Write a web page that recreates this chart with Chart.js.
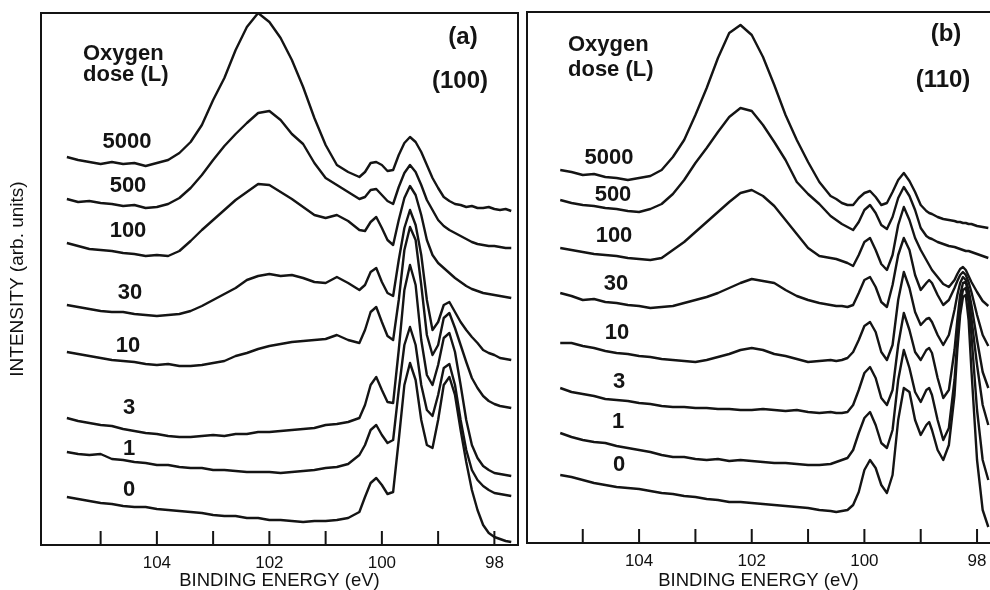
<!DOCTYPE html>
<html>
<head>
<meta charset="utf-8">
<script src="https://cdn.jsdelivr.net/npm/chart.js@4.4.1/dist/chart.umd.min.js"></script>
<style>
html, body { margin: 0; padding: 0; background: #fff; }
#wrap { position: relative; width: 990px; height: 590px; overflow: hidden; }
#boxA { position: absolute; left: 0; top: 0; width: 522px; height: 590px; }
#boxB { position: absolute; left: 522px; top: 0; width: 468px; height: 590px; }
</style>
</head>
<body>
<div id="wrap">
  <div id="boxA"><canvas id="chartA"></canvas></div>
  <div id="boxB"><canvas id="chartB"></canvas></div>
</div>
<script>
// binding energy grids (eV), shared by all curves of a panel
var energyA = [105.6, 105.4, 105.2, 105.0, 104.8, 104.6, 104.4, 104.2, 104.0, 103.8, 103.6, 103.4, 103.2, 103.0, 102.8, 102.6, 102.4, 102.2, 102.0, 101.8, 101.6, 101.4, 101.2, 101.0, 100.8, 100.6, 100.4,
  100.3, 100.2, 100.1, 100.0, 99.9, 99.8, 99.7, 99.6, 99.5, 99.4, 99.3, 99.2, 99.1, 99.0, 98.9, 98.8, 98.7, 98.6, 98.5, 98.4, 98.3, 98.2, 98.1, 98.0, 97.9, 97.8, 97.7];
var energyB = [105.4, 105.2, 105.0, 104.8, 104.6, 104.4, 104.2, 104.0, 103.8, 103.6, 103.4, 103.2, 103.0, 102.8, 102.6, 102.4, 102.2, 102.0, 101.8, 101.6, 101.4, 101.2, 101.0, 100.8, 100.6,
  100.5, 100.4, 100.3, 100.2, 100.1, 100.0, 99.9, 99.8, 99.7, 99.6, 99.5, 99.4, 99.3, 99.2, 99.1, 99.0,
  98.9, 98.85, 98.8, 98.7, 98.6, 98.5, 98.4, 98.35, 98.3, 98.25, 98.2, 98.15, 98.1, 98.0, 97.9, 97.8];

var doses = ['5000', '500', '100', '30', '10', '3', '1', '0'];
var tickLabels = [104, 102, 100, 98];

// panel (a), Si(100): spectra stacked with offsets (arb. units)
var a5000 = [388, 385, 383, 381, 383, 381, 382, 379, 382, 385, 392, 403, 420, 445, 467, 495, 518, 532, 523, 507, 485, 458, 427, 400, 380, 373, 368,
  373, 382, 383, 380, 374, 375, 390, 402, 408, 403, 393, 380, 367, 357, 348, 344, 341, 340, 338, 339, 337, 337, 338, 336, 335, 336, 334];
var a500 = [346, 343, 344, 342, 341, 339, 340, 337, 338, 341, 347, 357, 370, 385, 399, 411, 422, 432, 434, 425, 411, 401, 382, 367, 360, 353, 346,
  348, 355, 356, 350, 344, 341, 358, 372, 380, 373, 360, 345, 335, 325, 319, 315, 312, 309, 306, 303, 301, 300, 299, 299, 298, 297, 297];
var a100 = [302, 299, 296, 295, 294, 292, 291, 289, 290, 289, 294, 304, 315, 325, 335, 345, 353, 361, 360, 353, 346, 338, 330, 327, 330, 324, 315,
  314, 323, 328, 317, 305, 300, 325, 347, 359, 350, 330, 305, 290, 282, 277, 272, 267, 263, 259, 256, 254, 252, 251, 250, 249, 248, 247];
var a30 = [240, 238, 236, 234, 233, 233, 231, 230, 229, 230, 231, 234, 239, 245, 251, 257, 265, 269, 271, 269, 270, 267, 263, 262, 268, 262, 255,
  260, 273, 277, 263, 252, 249, 285, 317, 335, 320, 290, 245, 215, 223, 240, 243, 233, 223, 215, 208, 202, 195, 192, 190, 187, 186, 185];
var a10 = [193, 191, 189, 187, 185, 184, 183, 181, 180, 181, 179, 179, 180, 182, 184, 189, 192, 196, 199, 201, 203, 204, 205, 206, 210, 205, 202,
  215, 233, 238, 223, 209, 205, 245, 295, 318, 305, 260, 210, 190, 200, 227, 232, 217, 200, 183, 167, 157, 149, 144, 141, 139, 138, 137];
var a3 = [127, 124, 122, 120, 119, 116, 114, 112, 111, 109, 108, 108, 109, 110, 109, 111, 111, 113, 113, 114, 115, 116, 117, 120, 121, 123, 127,
  140, 160, 168, 155, 143, 142, 195, 255, 280, 260, 205, 170, 160, 180, 207, 212, 193, 160, 125, 100, 87, 79, 75, 72, 71, 70, 69];
var a1 = [93, 91, 90, 91, 86, 85, 83, 82, 80, 80, 78, 77, 77, 75, 75, 74, 73, 73, 73, 72, 73, 74, 75, 77, 78, 81, 90,
  100, 115, 120, 110, 102, 105, 155, 200, 218, 200, 160, 135, 129, 150, 177, 181, 160, 125, 95, 75, 65, 59, 55, 52, 51, 50, 49];
var a0 = [48, 46, 44, 42, 41, 39, 38, 38, 36, 35, 34, 33, 32, 30, 29, 29, 27, 27, 25, 25, 24, 23, 24, 24, 25, 27, 33,
  48, 62, 67, 60, 51, 53, 105, 160, 182, 165, 125, 100, 97, 125, 160, 168, 150, 115, 83, 55, 35, 20, 12, 8, 6, 4, 3];

// panel (b), Si(110)
var b5000 = [373, 371, 368, 369, 366, 365, 363, 365, 367, 373, 386, 403, 428, 455, 485, 510, 518, 508, 486, 458, 428, 403, 381, 361, 347,
  344, 340, 338, 338, 345, 350, 352, 346, 338, 340, 351, 363, 370, 362, 351, 338,
  332, 330, 329, 326, 324, 323, 322, 321, 321, 320, 320, 319, 319, 317, 316, 315];
var b500 = [343, 340, 338, 337, 335, 334, 332, 331, 334, 339, 349, 363, 380, 395, 411, 426, 435, 432, 418, 401, 383, 361, 349, 339, 327,
  323, 319, 316, 313, 321, 333, 338, 330, 318, 314, 326, 345, 356, 347, 333, 315,
  307, 305, 304, 301, 299, 297, 296, 295, 294, 293, 292, 292, 291, 289, 287, 285];
var b100 = [295, 293, 291, 289, 288, 287, 285, 284, 283, 285, 293, 301, 311, 321, 331, 341, 350, 353, 347, 337, 323, 309, 295, 287, 285,
  284, 282, 280, 277, 288, 301, 305, 293, 279, 273, 288, 318, 336, 323, 305, 293,
  283, 278, 273, 266, 259, 256, 263, 269, 274, 276, 273, 267, 261, 251, 242, 237];
var b30 = [250, 247, 243, 244, 241, 240, 238, 237, 235, 236, 237, 240, 243, 246, 250, 255, 260, 264, 262, 260, 253, 247, 243, 240, 238,
  237, 237, 236, 238, 250, 263, 266, 256, 241, 236, 258, 288, 305, 293, 268, 253,
  260, 263, 260, 248, 238, 243, 255, 262, 268, 271, 268, 261, 251, 228, 208, 197];
var b10 = [200, 200, 197, 195, 192, 190, 189, 187, 186, 184, 183, 182, 181, 183, 186, 189, 193, 195, 193, 189, 187, 184, 181, 182, 183,
  182, 183, 185, 191, 203, 217, 221, 211, 191, 183, 198, 243, 271, 255, 231, 218,
  224, 225, 221, 208, 198, 208, 233, 248, 260, 266, 263, 253, 238, 203, 171, 155];
var b3 = [155, 151, 149, 147, 144, 143, 142, 140, 139, 137, 136, 136, 135, 135, 134, 134, 133, 133, 134, 133, 132, 133, 131, 130, 131,
  130, 130, 131, 138, 153, 170, 176, 165, 145, 138, 153, 198, 230, 213, 191, 183,
  193, 195, 190, 165, 145, 153, 193, 223, 248, 260, 261, 248, 225, 178, 138, 118];
var b1 = [110, 106, 103, 101, 100, 97, 95, 93, 91, 88, 86, 86, 84, 83, 84, 82, 83, 82, 81, 80, 80, 79, 78, 78, 79,
  81, 83, 85, 93, 110, 125, 131, 118, 100, 95, 113, 163, 193, 175, 151, 141,
  153, 155, 148, 123, 103, 115, 163, 203, 238, 253, 255, 241, 208, 133, 83, 63];
var b0 = [68, 66, 63, 60, 58, 56, 55, 54, 52, 50, 49, 47, 46, 44, 43, 41, 41, 40, 39, 38, 37, 36, 35, 33, 32,
  31, 32, 33, 38, 51, 73, 83, 75, 58, 50, 68, 123, 155, 151, 123, 108,
  118, 121, 113, 93, 83, 98, 148, 193, 228, 246, 248, 223, 173, 83, 33, 16];

Chart.defaults.font.family = '"Liberation Sans", Arial, Helvetica, sans-serif';
Chart.defaults.color = '#111';

var INK = '#141414';

function series(energy, values) {
  return energy.map(function (e, i) { return { x: e, y: values[i] }; });
}

// frame, inward ticks and the in-plot labels
var panelDecor = {
  id: 'panelDecor',
  afterDatasetsDraw: function (chart, args, o) {
    var ctx = chart.ctx, a = chart.chartArea, xs = chart.scales.x;
    ctx.save();
    ctx.strokeStyle = INK;
    ctx.lineWidth = 2;
    ctx.lineCap = 'square';
    ctx.beginPath();
    ctx.moveTo(a.left, a.bottom);
    ctx.lineTo(a.left, a.top);
    ctx.lineTo(a.right, a.top);
    if (o.right) ctx.lineTo(a.right, a.bottom);
    else ctx.moveTo(a.right, a.bottom);
    ctx.lineTo(a.left, a.bottom);
    xs.ticks.forEach(function (t) {
      if (t.value < 98 || t.value > 105) return;
      var px = xs.getPixelForValue(t.value);
      ctx.moveTo(px, a.bottom);
      ctx.lineTo(px, a.bottom - 13);
    });
    ctx.stroke();

    ctx.fillStyle = INK;
    ctx.font = 'bold 22px "Liberation Sans", Arial, sans-serif';
    ctx.textAlign = 'left';
    ctx.textBaseline = 'alphabetic';
    ctx.fillText('Oxygen', o.head[0], o.head[1]);
    ctx.fillText('dose (L)', o.head[0], o.head[2]);
    ctx.textAlign = 'center';
    ctx.textBaseline = 'middle';
    doses.forEach(function (d, i) {
      ctx.fillText(d, o.doseX[i], o.doseY[i]);
    });
    ctx.font = 'bold 24px "Liberation Sans", Arial, sans-serif';
    ctx.fillText(o.tag, o.tagAt[0], o.tagAt[1]);
    ctx.fillText(o.face, o.faceAt[0], o.faceAt[1]);
    ctx.restore();
  }
};

function makePanel(id, energy, curves, xMin, xMax, yMax, pad, axisH, yWidth, decor) {
  return new Chart(document.getElementById(id), {
    type: 'line',
    data: {
      datasets: curves.map(function (c, i) {
        return {
          label: doses[i] + ' L',
          data: series(energy, c),
          borderColor: INK,
          borderWidth: 2.4,
          borderJoinStyle: 'round',
          pointRadius: 0,
          tension: 0,
          fill: false
        };
      })
    },
    options: {
      responsive: true,
      maintainAspectRatio: false,
      animation: false,
      layout: { padding: pad },
      plugins: {
        legend: { display: false },
        tooltip: { enabled: false },
        panelDecor: decor
      },
      scales: {
        x: {
          type: 'linear',
          reverse: true,
          min: xMin,
          max: xMax,
          grid: { display: false, drawTicks: false },
          border: { display: false },
          ticks: {
            stepSize: 1,
            includeBounds: false,
            autoSkip: false,
            maxRotation: 0,
            padding: 8,
            font: { size: 17 },
            callback: function (v) { return tickLabels.indexOf(v) >= 0 ? String(v) : ''; }
          },
          title: {
            display: true,
            text: 'BINDING ENERGY (eV)',
            font: { size: 18.5 },
            padding: { top: 0, bottom: -2 }
          },
          afterFit: function (s) { s.height = axisH; s.paddingLeft = 0; s.paddingRight = 0; }
        },
        y: {
          display: yWidth > 0,
          min: 0,
          max: yMax,
          grid: { display: false, drawTicks: false },
          border: { display: false },
          ticks: { display: false },
          title: {
            display: true,
            text: 'INTENSITY (arb. units)',
            font: { size: 19 },
            padding: { top: 6, bottom: 0 }
          },
          afterFit: function (s) { s.width = yWidth; }
        }
      }
    },
    plugins: [panelDecor]
  });
}

makePanel('chartA', energyA, [a5000, a500, a100, a30, a10, a3, a1, a0], 97.58, 106.06, 532,
  { top: 13, left: 0, right: 4, bottom: 0 }, 45, 41,
  { right: true, tag: '(a)', face: '(100)', tagAt: [463, 37], faceAt: [460, 81], head: [83, 60, 81],
    doseX: [127, 128, 128, 130, 128, 129, 129, 129], doseY: [142, 186, 231, 293, 346, 408, 449, 490] });

makePanel('chartB', energyB, [b5000, b500, b100, b30, b10, b3, b1, b0], 97.77, 105.99, 531,
  { top: 12, left: 5, right: 0, bottom: 0 }, 47, 0,
  { right: false, tag: '(b)', face: '(110)', tagAt: [424, 34], faceAt: [421, 80], head: [46, 51, 76],
    doseX: [87, 91, 92, 94, 95, 97, 96, 97], doseY: [158, 195, 236, 284, 333, 382, 422, 465] });
</script>
</body>
</html>
